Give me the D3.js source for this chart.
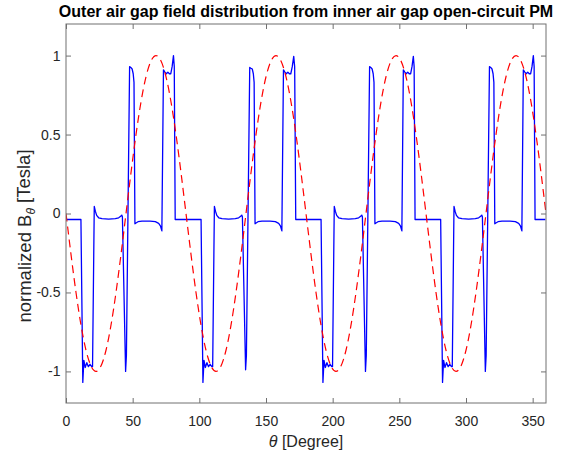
<!DOCTYPE html>
<html>
<head>
<meta charset="utf-8">
<script src="https://cdn.jsdelivr.net/npm/d3@7"></script>
<style>
  html, body { margin: 0; padding: 0; background: #ffffff; }
  svg { display: block; }
  text { font-family: "Liberation Sans", Arial, Helvetica, sans-serif; }
</style>
</head>
<body>
<svg id="chart" width="561" height="456"></svg>
<script>
// Axis ticks
const xTicks = [0, 50, 100, 150, 200, 250, 300, 350];
const yTicks = [-1, -0.5, 0, 0.5, 1];

// Reference sinusoid (red dashed), angle in degrees
const thetaRed = [0, 7.5, 15, 22.5, 30, 37.5, 45, 52.5, 60, 67.5, 75, 82.5,
  90, 97.5, 105, 112.5, 120, 127.5, 135, 142.5, 150, 157.5, 165, 172.5,
  180, 187.5, 195, 202.5, 210, 217.5, 225, 232.5, 240, 247.5, 255, 262.5,
  270, 277.5, 285, 292.5, 300, 307.5, 315, 322.5, 330, 337.5, 345, 352.5, 360];
const fieldRed = [0, -0.5, -0.866, -1, -0.866, -0.5, 0, 0.5, 0.866, 1, 0.866, 0.5,
  0, -0.5, -0.866, -1, -0.866, -0.5, 0, 0.5, 0.866, 1, 0.866, 0.5,
  0, -0.5, -0.866, -1, -0.866, -0.5, 0, 0.5, 0.866, 1, 0.866, 0.5,
  0, -0.5, -0.866, -1, -0.866, -0.5, 0, 0.5, 0.866, 1, 0.866, 0.5, 0];

// Computed outer air gap field (blue), angle in degrees
const thetaBlue = [
  0.5, 11.2, 12.6, 13.4, 14.4, 15.6, 16.8, 18.0, 19.3, 19.9, 21.2, 22.0, 23.0, 24.5, 27, 32, 37, 39.5, 41, 41.8,
  42.3, 44.7, 45.3, 47.7, 48.6, 49.6, 50.4, 51.0, 51.7, 52.5, 54, 57, 63, 67, 69.5, 70.8, 71.9,
  73.1, 74.2, 75.3, 76.4, 77.5, 78.6, 79.6, 80.6, 81.2, 81.9,
  86, 101.3, 102.7, 103.5, 104.5, 105.7, 106.9, 108.1, 109.4, 110.0, 111.3, 112.1, 113.1, 114.6, 117, 122, 127, 129.5, 131, 131.8,
  132.3, 134.7, 135.3, 137.8, 138.7, 139.7, 140.5, 141.1, 141.8, 142.6, 144, 147, 153, 157, 159.5, 160.8, 161.9,
  163.1, 164.2, 165.3, 166.4, 167.5, 168.6, 169.7, 170.8, 171.5, 172.3,
  176, 191.3, 192.7, 193.5, 194.5, 195.7, 196.9, 198.1, 199.3, 199.9, 201.2, 202.0, 203.0, 204.5, 207, 212, 217, 219.5, 221, 221.8,
  222.3, 224.6, 225.2, 227.7, 228.6, 229.6, 230.4, 231.0, 231.7, 232.5, 234, 237, 243, 247, 249.5, 250.8, 251.9,
  253.0, 254.1, 255.2, 256.3, 257.4, 258.5, 259.5, 260.5, 261.1, 261.8,
  266, 281.0, 282.4, 283.2, 284.2, 285.4, 286.6, 287.8, 289.1, 289.7, 291.0, 291.8, 292.8, 294.3, 297, 302, 307, 309.5, 311, 311.8,
  312.3, 314.5, 315.1, 317.6, 318.5, 319.5, 320.3, 320.9, 321.6, 322.4, 324, 327, 333, 337, 339.5, 340.8, 341.9,
  343.0, 344.1, 345.2, 346.3, 347.4, 348.5, 349.5, 350.5, 351.1, 351.8,
  359.5
];
const fieldBlue = [
  -0.038, -0.038, -1.07, -0.93, -0.975, -0.945, -0.97, -0.955, -0.97, -0.97, 0.045, 0.015, -0.012, -0.027, -0.033, -0.035, -0.033, -0.027, -0.018, -0.01,
  -0.02, -1.0, -0.9, 0.93, 0.925, 0.915, 0.885, 0.83, -0.065, -0.06, -0.052, -0.048, -0.048, -0.052, -0.062, -0.078, -0.11,
  0.91, 0.895, 0.885, 0.895, 0.885, 0.885, 0.93, 1.0, 0.93, -0.038,
  -0.038, -0.038, -1.07, -0.93, -0.975, -0.945, -0.97, -0.955, -0.97, -0.97, 0.045, 0.015, -0.012, -0.027, -0.033, -0.035, -0.033, -0.027, -0.018, -0.01,
  -0.02, -0.99, -0.9, 0.925, 0.92, 0.915, 0.885, 0.83, -0.065, -0.06, -0.052, -0.048, -0.048, -0.052, -0.062, -0.078, -0.11,
  0.91, 0.895, 0.885, 0.895, 0.885, 0.885, 0.93, 0.995, 0.93, -0.038,
  -0.038, -0.038, -1.07, -0.93, -0.975, -0.945, -0.97, -0.955, -0.97, -0.97, 0.045, 0.015, -0.012, -0.027, -0.033, -0.035, -0.033, -0.027, -0.018, -0.01,
  -0.02, -1.0, -0.9, 0.93, 0.925, 0.915, 0.885, 0.83, -0.065, -0.06, -0.052, -0.048, -0.048, -0.052, -0.062, -0.078, -0.11,
  0.91, 0.895, 0.885, 0.895, 0.885, 0.885, 0.93, 0.995, 0.93, -0.038,
  -0.038, -0.038, -1.07, -0.93, -0.975, -0.945, -0.97, -0.955, -0.97, -0.97, 0.045, 0.015, -0.012, -0.027, -0.033, -0.035, -0.033, -0.027, -0.018, -0.01,
  -0.02, -1.0, -0.9, 0.93, 0.925, 0.915, 0.885, 0.83, -0.065, -0.06, -0.052, -0.048, -0.048, -0.052, -0.062, -0.078, -0.11,
  0.91, 0.895, 0.885, 0.895, 0.885, 0.885, 0.93, 1.0, 0.93, -0.038,
  -0.038
];

const W = 561, H = 456;
const margin = { top: 24, right: 15, bottom: 53, left: 66 };
const axisColor = "#707070";
const textColor = "#262626";

const svg = d3.select("#chart");

const x = d3.scaleLinear().domain([0, 360]).range([margin.left, W - margin.right]);
const y = d3.scaleLinear().domain([-1.2, 1.2]).range([H - margin.bottom, margin.top]);

// clip region for the plotted curves
svg.append("defs").append("clipPath").attr("id", "plot-clip")
  .append("rect")
  .attr("x", margin.left).attr("y", margin.top)
  .attr("width", x(360) - margin.left).attr("height", y(-1.2) - margin.top);

const blue = thetaBlue.map((t, i) => [t, fieldBlue[i]]);
const red = thetaRed.map((t, i) => [t, fieldRed[i]]);

const plot = svg.append("g").attr("clip-path", "url(#plot-clip)");

plot.append("path")
  .datum(blue)
  .attr("fill", "none")
  .attr("stroke", "#0000ff")
  .attr("stroke-width", 1.3)
  .attr("stroke-linejoin", "round")
  .attr("d", d3.line().x(d => x(d[0])).y(d => y(d[1])));

plot.append("path")
  .datum(red)
  .attr("fill", "none")
  .attr("stroke", "#ff0000")
  .attr("stroke-width", 1.2)
  .attr("stroke-dasharray", "8,5")
  .attr("d", d3.line().curve(d3.curveNatural).x(d => x(d[0])).y(d => y(d[1])));

// axes: ticks point inward on all four sides
const fmt = d => String(d);
function styleAxis(g) {
  g.select(".domain").remove();
  g.selectAll(".tick line").attr("stroke", axisColor);
  g.selectAll(".tick text").attr("fill", textColor).style("font-size", "14px");
}

svg.append("g")
  .attr("transform", `translate(0,${y(-1.2)})`)
  .call(d3.axisBottom(x).tickValues(xTicks).tickFormat(fmt).tickSize(-5).tickPadding(13))
  .call(styleAxis);

svg.append("g")
  .attr("transform", `translate(0,${y(1.2)})`)
  .call(d3.axisTop(x).tickValues(xTicks).tickFormat("").tickSize(-5))
  .call(styleAxis);

svg.append("g")
  .attr("transform", `translate(${x(0)},0)`)
  .call(d3.axisLeft(y).tickValues(yTicks).tickFormat(fmt).tickSize(-5).tickPadding(5.5))
  .call(styleAxis);

svg.append("g")
  .attr("transform", `translate(${x(360)},0)`)
  .call(d3.axisRight(y).tickValues(yTicks).tickFormat("").tickSize(-5))
  .call(styleAxis);

// axes box
svg.append("rect")
  .attr("x", x(0)).attr("y", y(1.2))
  .attr("width", x(360) - x(0)).attr("height", y(-1.2) - y(1.2))
  .attr("fill", "none")
  .attr("stroke", axisColor)
  .attr("stroke-width", 1);

const cx = (x(0) + x(360)) / 2;

// title
svg.append("text")
  .attr("x", cx).attr("y", 17)
  .attr("text-anchor", "middle")
  .style("font-size", "16px").style("font-weight", "bold")
  .attr("fill", "#000000")
  .text("Outer air gap field distribution from inner air gap open-circuit PM");

// x label
const xl = svg.append("text")
  .attr("x", cx).attr("y", 447)
  .attr("text-anchor", "middle")
  .style("font-size", "16px")
  .attr("fill", textColor);
xl.append("tspan").style("font-style", "italic").text("θ");
xl.append("tspan").text(" [Degree]");

// y label
const yl = svg.append("text")
  .attr("transform", "translate(30.5,236) rotate(-90)")
  .attr("text-anchor", "middle")
  .style("font-size", "18.5px")
  .attr("fill", textColor);
yl.append("tspan").text("normalized B");
yl.append("tspan").style("font-style", "italic").style("font-size", "12px").attr("dy", "0.35em").text("θ");
yl.append("tspan").attr("dy", "-0.23em").text(" [Tesla]");
</script>
</body>
</html>
